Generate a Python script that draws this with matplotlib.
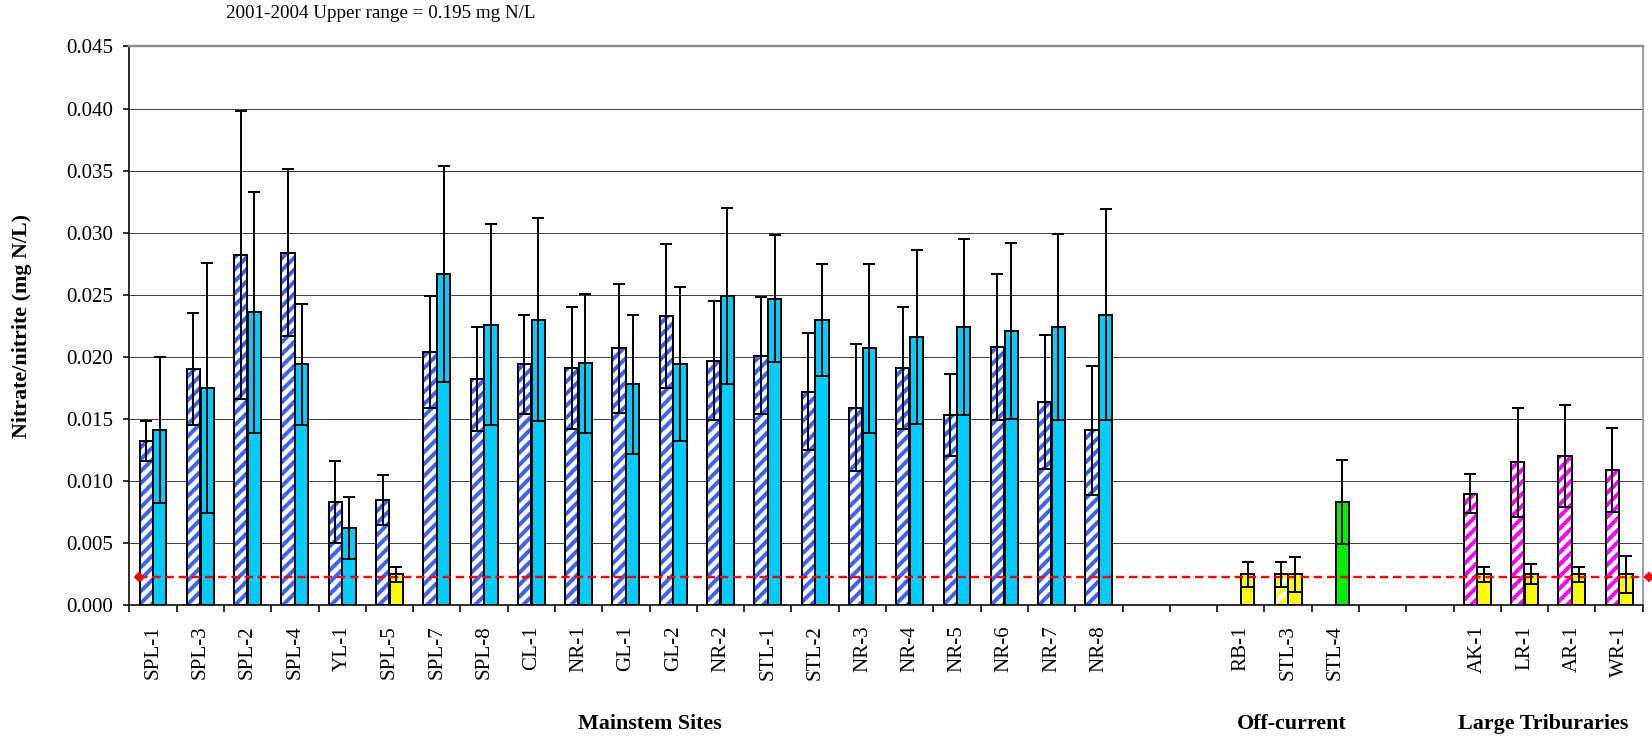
import matplotlib
matplotlib.use('Agg')
import matplotlib.pyplot as plt
import numpy as np
from matplotlib.ticker import FormatStrFormatter
from matplotlib.transforms import blended_transform_factory

# %% DATA
mainstem_sites = ['SPL-1', 'SPL-3', 'SPL-2', 'SPL-4', 'YL-1', 'SPL-5', 'SPL-7',
                  'SPL-8', 'CL-1', 'NR-1', 'GL-1', 'GL-2', 'NR-2', 'STL-1',
                  'STL-2', 'NR-3', 'NR-4', 'NR-5', 'NR-6', 'NR-7', 'NR-8']
offcurrent_sites = ['RB-1', 'STL-3', 'STL-4']
tributary_sites = ['AK-1', 'LR-1', 'AR-1', 'WR-1']
group_names = ['Mainstem Sites', 'Off-current', 'Large Triburaries']

# first (hatched) bar of each site
mainstem_a = [0.0132, 0.0190, 0.0282, 0.0284, 0.0083, 0.0085, 0.0204,
              0.0182, 0.0194, 0.0191, 0.0207, 0.0233, 0.0197, 0.0201,
              0.0172, 0.0159, 0.0191, 0.0153, 0.0208, 0.0164, 0.0141]
mainstem_a_err = [0.0016, 0.0045, 0.0116, 0.0067, 0.0033, 0.0020, 0.0045,
                  0.0042, 0.0040, 0.0049, 0.0052, 0.0058, 0.0048, 0.0047,
                  0.0047, 0.0051, 0.0049, 0.0033, 0.0059, 0.0054, 0.0052]
# second (solid) bar of each site
mainstem_b = [0.0141, 0.0175, 0.0236, 0.0194, 0.0062, 0.0025, 0.0267,
              0.0226, 0.0230, 0.0195, 0.0178, 0.0194, 0.0249, 0.0247,
              0.0230, 0.0207, 0.0216, 0.0224, 0.0221, 0.0224, 0.0234]
mainstem_b_err = [0.0059, 0.0101, 0.0097, 0.0049, 0.0025, 0.0006, 0.0087,
                  0.0081, 0.0082, 0.0056, 0.0056, 0.0062, 0.0071, 0.0051,
                  0.0045, 0.0068, 0.0070, 0.0071, 0.0071, 0.0075, 0.0085]

offcurrent_a = [np.nan, 0.0025, np.nan]
offcurrent_a_err = [np.nan, 0.0010, np.nan]
offcurrent_b = [0.0025, 0.0025, 0.0083]
offcurrent_b_err = [0.0010, 0.0014, 0.0034]

tributary_a = [0.0090, 0.0115, 0.0120, 0.0109]
tributary_a_err = [0.0016, 0.0044, 0.0041, 0.0034]
tributary_b = [0.0025, 0.0025, 0.0025, 0.0025]
tributary_b_err = [0.0006, 0.0008, 0.0006, 0.0015]

upper_range = 0.0023
note = '2001-2004 Upper range = 0.195 mg N/L'

# %% STYLE
BLUE = '#3d63f0'
CYAN = '#00ccff'
YELLOW = '#ffff00'
MAGENTA = '#ff00ff'
GREEN = '#00ee00'

plt.rcParams['font.family'] = ['Liberation Serif', 'DejaVu Serif']
plt.rcParams['hatch.linewidth'] = 2.0

hatch_cols = ([BLUE] * len(mainstem_sites) + ['none', 'none']
              + ['none', YELLOW, 'none'] + ['none', 'none']
              + [MAGENTA] * len(tributary_sites))
solid_cols = [CYAN] * len(mainstem_sites)
solid_cols[mainstem_sites.index('SPL-5')] = YELLOW
solid_cols = (solid_cols + ['none', 'none'] + [YELLOW, YELLOW, GREEN]
              + ['none', 'none'] + [YELLOW] * len(tributary_sites))

# %% ASSEMBLE SLOTS (two empty slots between groups)
gap = [np.nan, np.nan]
site_labels = (mainstem_sites + ['', ''] + offcurrent_sites + ['', '']
               + tributary_sites)
vals_a = np.array(mainstem_a + gap + offcurrent_a + gap + tributary_a)
err_a = np.array(mainstem_a_err + gap + offcurrent_a_err + gap + tributary_a_err)
vals_b = np.array(mainstem_b + gap + offcurrent_b + gap + tributary_b)
err_b = np.array(mainstem_b_err + gap + offcurrent_b_err + gap + tributary_b_err)
x = np.arange(len(site_labels))

# %% PLOT
fig = plt.figure(figsize=(1652 / 144, 738 / 144), dpi=144)
ax = fig.add_axes([0.0783, 0.1798, 0.9161, 0.7573])

w = 0.28
off = 0.145

ax.bar(x - off, vals_a, width=w, color='white', edgecolor=hatch_cols,
       hatch='////', linewidth=0, zorder=2)
ax.bar(x - off, vals_a, width=w, color='none', edgecolor='black',
       linewidth=1.0, zorder=3)
ax.bar(x + off, vals_b, width=w, color=solid_cols, edgecolor='black',
       linewidth=1.0, zorder=3)

ax.axhline(upper_range, xmin=0.0066, xmax=1.0042, color='red', lw=1.2,
           ls=(0, (3.5, 2)), marker='D', ms=3, clip_on=False, zorder=4)

ax.errorbar(x - off, vals_a, yerr=err_a, fmt='none', ecolor='black',
            elinewidth=1.0, capsize=3, capthick=1.0, zorder=5)
ax.errorbar(x + off, vals_b, yerr=err_b, fmt='none', ecolor='black',
            elinewidth=1.0, capsize=3, capthick=1.0, zorder=5)

# axes
ax.set_xlim(-0.5, len(x) - 0.5)
ax.set_ylim(0, 0.045)
ax.set_yticks(np.arange(0, 0.0451, 0.005))
ax.yaxis.set_major_formatter(FormatStrFormatter('%.3f'))
ax.tick_params(axis='y', labelsize=10.5, length=3, width=0.8, pad=5)

ax.set_xticks(x)
ax.set_xticklabels(site_labels, rotation=90)
ax.set_xticks(np.arange(len(x) + 1) - 0.5, minor=True)
ax.tick_params(axis='x', which='major', length=0, pad=10, labelsize=10.5)
ax.tick_params(axis='x', which='minor', length=3.5, width=0.8,
               direction='out')

ax.yaxis.grid(True, color='#404040', lw=0.5)
ax.set_axisbelow(True)
ax.spines['left'].set_linewidth(0.8)
ax.spines['bottom'].set_linewidth(0.8)
ax.spines['top'].set_color('#8c8c8c')
ax.spines['top'].set_linewidth(1.2)
ax.spines['right'].set_color('#a0a0a0')
ax.spines['right'].set_linewidth(1.0)

ax.set_ylabel('Nitrate/nitrite (mg N/L)', fontsize=11, fontweight='bold')
ax.yaxis.set_label_coords(-0.064, 0.5)

# group captions under the site names
trans = blended_transform_factory(ax.transData, fig.transFigure)
for name, xpos in zip(group_names, [10.5, 24.07, 29.4]):
    ax.text(xpos, 0.019, name, transform=trans, ha='center', va='center',
            fontsize=11, fontweight='bold')

fig.text(226 / 1652, 1 - 14 / 738, note, fontsize=9.5, ha='left',
         va='center')

fig.savefig('out.png', dpi=144)
